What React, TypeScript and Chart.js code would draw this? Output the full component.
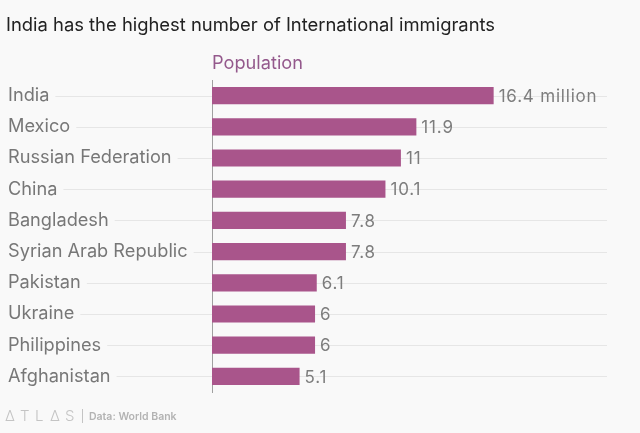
import React, { useEffect, useRef } from "react";
import { Chart, registerables } from "chart.js";

Chart.register(...registerables);

const categories = [
  "India",
  "Mexico",
  "Russian Federation",
  "China",
  "Bangladesh",
  "Syrian Arab Republic",
  "Pakistan",
  "Ukraine",
  "Philippines",
  "Afghanistan",
];
const population = [16.4, 11.9, 11, 10.1, 7.8, 7.8, 6.1, 6, 6, 5.1];
const valueLabels = ["16.4 million", "11.9", "11", "10.1", "7.8", "7.8", "6.1", "6", "6", "5.1"];
const titleText = "India has the highest number of International immigrants";
const seriesName = "Population";
const sourceText = "Data: World Bank";

const FONT = "Inter, Roboto, sans-serif";
const BG = "#f9f9f9";

export default function App() {
  const ref = useRef<HTMLCanvasElement | null>(null);
  useEffect(() => {
    document.body.style.margin = "0";
    const canvas = ref.current!;
    const decor = {
      id: "decor",
      beforeDraw(chart: any) {
        const { ctx, chartArea, scales } = chart;
        ctx.save();
        ctx.fillStyle = BG;
        ctx.fillRect(0, 0, chart.width, chart.height);
        ctx.fillStyle = "#222";
        ctx.font = `18.4px ${FONT}`;
        ctx.textBaseline = "alphabetic";
        ctx.textAlign = "left";
        ctx.fillText(titleText, 6, 31);
        ctx.fillStyle = "#94598c";
        ctx.font = `18.2px ${FONT}`;
        ctx.fillText(seriesName, chartArea.left, 69);
        ctx.strokeStyle = "#e6e6e6";
        ctx.lineWidth = 1;
        const y = scales.y;
        categories.forEach((_, i) => {
          const py = Math.round(y.getPixelForValue(i)) + 0.5;
          ctx.beginPath();
          ctx.moveTo(8, py);
          ctx.lineTo(chartArea.right, py);
          ctx.stroke();
        });
        ctx.fillStyle = "#c4c4c4";
        ctx.font = `300 15px ${FONT}`;
        const letters = ["Δ", "T", "L", "Δ", "S"];
        let x = 5;
        letters.forEach((l) => {
          ctx.fillText(l, x, 421);
          x += 15;
        });
        ctx.fillRect(82, 409, 1, 14);
        ctx.fillStyle = "#b3b3b3";
        ctx.font = `600 10.5px ${FONT}`;
        ctx.fillText(sourceText, 89, 420);
        ctx.restore();
      },
      afterDatasetsDraw(chart: any) {
        const { ctx } = chart;
        const meta = chart.getDatasetMeta(0);
        ctx.save();
        ctx.fillStyle = "#7d7d7d";
        ctx.font = `17px ${FONT}`;
        (ctx as any).letterSpacing = "0.8px";
        ctx.textBaseline = "middle";
        ctx.textAlign = "left";
        meta.data.forEach((bar: any, i: number) => {
          ctx.fillText(valueLabels[i], bar.x + 5, bar.y + 1);
        });
        ctx.restore();
      },
    };
    const chart = new Chart(canvas, {
      type: "bar",
      data: {
        labels: categories,
        datasets: [
          {
            label: seriesName,
            data: population,
            backgroundColor: "#a9558b",
            barPercentage: 0.55,
            categoryPercentage: 1,
          },
        ],
      },
      options: {
        indexAxis: "y",
        animation: false,
        responsive: false,
        maintainAspectRatio: false,
        layout: { padding: { left: 8, top: 80, right: 33, bottom: 41 } },
        plugins: { legend: { display: false }, tooltip: { enabled: false } },
        scales: {
          x: { display: false, min: 0, max: 23 },
          y: {
            afterFit: (s: any) => {
              s.width = 204;
            },
            grid: { display: false, drawTicks: false },
            border: { display: true, color: "#a0a0a0", width: 1 },
            ticks: {
              crossAlign: "far",
              color: "#777",
              padding: 0,
              font: { family: FONT, size: 18.2 },
              showLabelBackdrop: true,
              backdropColor: BG,
              backdropPadding: { left: 0, right: 6, top: 2, bottom: 2 },
            },
          },
        },
      },
      plugins: [decor],
    });
    return () => chart.destroy();
  }, []);
  return (
    <div style={{ position: "absolute", left: 0, top: 0, width: 640, height: 433 }}>
      <canvas ref={ref} width={640} height={433} style={{ display: "block", width: 640, height: 433 }} />
    </div>
  );
}
